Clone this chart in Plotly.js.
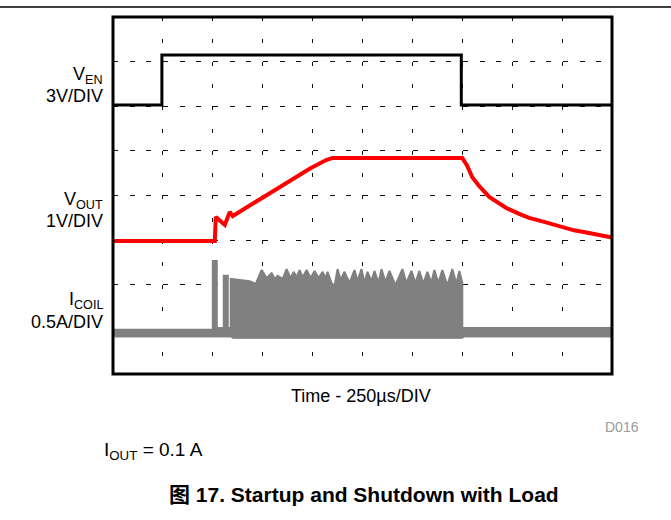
<!DOCTYPE html>
<html><head><meta charset="utf-8">
<script src="https://cdn.plot.ly/plotly-3.0.1.min.js"></script>
<style>html,body{margin:0;padding:0;background:#fff}#chart{width:671px;height:520px}</style>
</head><body><div id="chart"></div>
<script>
// time in µs (250 µs per division), amplitudes in screen divisions (0 = bottom, 8 = top)
const venTime = [0, 245, 245, 1745, 1745, 2500];
const venDiv  = [6.03, 6.03, 7.15, 7.15, 6.03, 6.03];

const voutTime = [0, 510, 515, 560, 585, 600, 745, 985, 1070, 1100, 1750, 1775, 1800, 1835, 1885, 1935, 1970, 2035, 2085, 2160, 2245, 2310, 2385, 2500];
const voutDiv  = [2.98, 2.98, 3.52, 3.34, 3.63, 3.54, 3.94, 4.60, 4.80, 4.84, 4.84, 4.66, 4.41, 4.21, 3.97, 3.81, 3.72, 3.59, 3.50, 3.41, 3.29, 3.22, 3.16, 3.06];

const coilTopTime = [0, 500, 500, 520, 520, 555, 555, 575, 575, 590, 590, 635, 685, 715, 745, 770, 795, 810, 825, 850, 870, 890, 905, 920, 935, 950, 970, 990, 1010, 1030, 1050, 1065, 1075, 1095, 1110, 1125, 1140, 1160, 1185, 1210, 1225, 1245, 1260, 1275, 1295, 1310, 1330, 1345, 1365, 1385, 1415, 1450, 1470, 1495, 1515, 1535, 1555, 1575, 1595, 1610, 1630, 1650, 1675, 1700, 1720, 1735, 1750, 1750, 2500];
const coilTopDiv  = [0.99, 0.99, 2.53, 2.53, 1.03, 1.03, 2.20, 2.20, 1.03, 1.03, 2.13, 2.11, 2.08, 2.02, 2.33, 2.15, 2.26, 2.13, 2.20, 2.13, 2.35, 2.15, 2.29, 2.17, 2.33, 2.17, 2.33, 2.15, 2.31, 2.15, 2.29, 2.15, 2.29, 2.04, 1.97, 2.35, 2.11, 2.29, 2.04, 2.33, 2.08, 2.35, 2.04, 2.29, 2.08, 2.31, 2.04, 2.35, 2.06, 2.31, 1.99, 2.35, 2.04, 2.31, 2.04, 2.31, 2.02, 2.29, 2.04, 2.33, 2.04, 2.33, 1.99, 2.35, 2.02, 2.31, 2.04, 1.03, 1.03];
const coilBotTime = [0, 590, 600, 1750, 1760, 2500];
const coilBotDiv  = [0.83, 0.83, 0.80, 0.80, 0.83, 0.83];

const channelNames = ['V<sub>EN</sub>', 'V<sub>OUT</sub>', 'I<sub>COIL</sub>'];
const channelScales = ['3V/DIV', '1V/DIV', '0.5A/DIV'];
const xTitle = 'Time - 250µs/DIV';
const figTitle = '图 17. Startup and Shutdown with Load';
const condition = 'I<sub>OUT</sub> = 0.1 A';
const figId = 'D016';

// layout helpers (pixel -> paper)
const L = 113, R = 612, T = 17, B = 374;
const px = x => (x - L) / (R - L);
const py = y => (B - y) / (B - T);
const FONT = 'Liberation Sans, Arial, sans-serif';

const traces = [
  {x: coilBotTime, y: coilBotDiv, mode: 'lines', line: {color: 'rgb(128,128,128)', width: 1}, hoverinfo: 'skip'},
  {x: coilTopTime, y: coilTopDiv, mode: 'lines', fill: 'tonexty', fillcolor: 'rgb(128,128,128)', line: {color: 'rgb(128,128,128)', width: 2}, hoverinfo: 'skip'},
  {x: venTime, y: venDiv, mode: 'lines', line: {color: '#000', width: 3}, hoverinfo: 'skip'},
  {x: voutTime, y: voutDiv, mode: 'lines', line: {color: '#ff0000', width: 4}, hoverinfo: 'skip'}
];

const labelY = [[75, 96], [201, 221], [300, 322]];
const ann = [];
channelNames.forEach((n, i) => {
  ann.push({xref: 'paper', yref: 'paper', x: px(105), y: py(labelY[i][0]), xanchor: 'right', yanchor: 'middle', text: n, showarrow: false, font: {family: FONT, size: 18, color: '#000'}});
  ann.push({xref: 'paper', yref: 'paper', x: px(105), y: py(labelY[i][1]), xanchor: 'right', yanchor: 'middle', text: channelScales[i], showarrow: false, font: {family: FONT, size: 18, color: '#000'}});
});
ann.push({xref: 'paper', yref: 'paper', x: px(361), y: py(395.5), xanchor: 'center', yanchor: 'middle', text: xTitle, showarrow: false, font: {family: FONT, size: 18, color: '#000'}});
ann.push({xref: 'paper', yref: 'paper', x: px(641), y: py(426.5), xanchor: 'right', yanchor: 'middle', text: figId, showarrow: false, font: {family: FONT, size: 14, color: '#999'}});
ann.push({xref: 'paper', yref: 'paper', x: px(102), y: py(451), xanchor: 'left', yanchor: 'middle', text: condition, showarrow: false, font: {family: FONT, size: 19, color: '#000'}});
ann.push({xref: 'paper', yref: 'paper', x: px(364), y: py(494), xanchor: 'center', yanchor: 'middle', text: '<b>' + figTitle + '</b>', showarrow: false, font: {family: 'Liberation Sans, Arial, Noto Sans CJK SC, sans-serif', size: 21, color: '#000'}});

const layout = {
  width: 671, height: 520,
  margin: {l: L, r: 671 - R, t: T, b: 520 - B, pad: 0},
  paper_bgcolor: '#fff', plot_bgcolor: '#fff',
  showlegend: false, hovermode: false,
  xaxis: {range: [0, 2500], tick0: 0, dtick: 250, showgrid: true, gridcolor: '#111', gridwidth: 1, griddash: '4px,18.3px', showticklabels: false, ticks: '', zeroline: false, showline: false, fixedrange: true},
  yaxis: {range: [0, 8], tick0: 0, dtick: 1, showgrid: true, gridcolor: '#111', gridwidth: 1, griddash: '5px,11.67px', showticklabels: false, ticks: '', zeroline: false, showline: false, fixedrange: true},
  shapes: [
    {type: 'rect', xref: 'paper', yref: 'paper', x0: 0, x1: 1, y0: 0, y1: 1, line: {color: '#000', width: 3}, layer: 'above'},
    {type: 'line', xref: 'paper', yref: 'paper', x0: px(0), x1: px(671), y0: py(7), y1: py(7), line: {color: '#000', width: 1.5}}
  ],
  annotations: ann
};

Plotly.newPlot('chart', traces, layout, {displayModeBar: false, staticPlot: true});
</script>
</body></html>
